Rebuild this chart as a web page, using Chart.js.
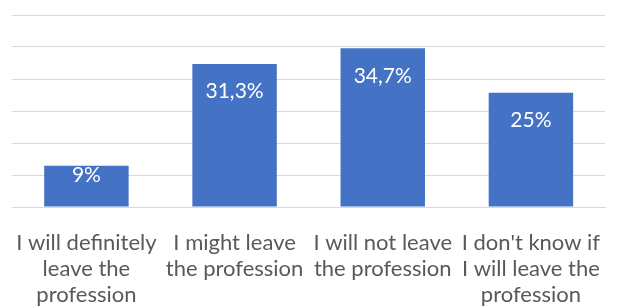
<!DOCTYPE html>
<html>
<head>
<meta charset="utf-8">
<script src="https://cdn.jsdelivr.net/npm/chart.js@4.4.1/dist/chart.umd.min.js"></script>
<style>
  html, body { margin: 0; padding: 0; background: #fff; }
  #wrap { width: 617px; height: 308px; }
</style>
</head>
<body>
<div id="wrap"><canvas id="chartCanvas" width="617" height="308"></canvas></div>
<script>
// categories (x-axis labels, already split into lines)
const categories = [
    ['I will definitely', 'leave the', 'profession'],
    ['I might leave', 'the profession'],
    ['I will not leave', 'the profession'],
    ["I don't know if", 'I will leave the', 'profession'],
];
// percent of respondents
const values = [9, 31.3, 34.7, 25];
const valueLabels = ['9%', '31,3%', '34,7%', '25%'];

const FONT = 'Lato, "Open Sans", sans-serif';

// white value labels drawn inside the top of each bar
const insideLabels = {
    id: 'insideLabels',
    afterDatasetsDraw(chart) {
        const ctx = chart.ctx;
        const meta = chart.getDatasetMeta(0);
        ctx.save();
        ctx.fillStyle = '#ffffff';
        ctx.font = '21px ' + FONT;
        ctx.textAlign = 'center';
        ctx.textBaseline = 'top';
        meta.data.forEach((bar, i) => {
            const h = bar.base - bar.y;
            const off = h < 60 ? -1 : 17;
            ctx.fillText(valueLabels[i], bar.x, bar.y + off);
        });
        ctx.restore();
    }
};

const ctx = document.getElementById('chartCanvas').getContext('2d');
new Chart(ctx, {
    type: 'bar',
    data: {
        labels: categories,
        datasets: [{
            data: values,
            backgroundColor: '#4472c4',
            categoryPercentage: 1,
            barPercentage: 0.57,
        }],
    },
    options: {
        responsive: false,
        animation: false,
        layout: { padding: { left: 10, right: 12, top: 15, bottom: 0 } },
        plugins: { legend: { display: false }, tooltip: { enabled: false } },
        scales: {
            x: {
                grid: { display: false },
                border: { display: true, color: '#d9d9d9', width: 1 },
                ticks: {
                    color: '#595959',
                    font: { family: FONT, size: 22, lineHeight: 1.18 },
                    maxRotation: 0,
                    autoSkip: false,
                    padding: 15,
                },
                afterFit(axis) { axis.height = 101; },
            },
            y: {
                min: 0,
                max: 42,
                ticks: { display: false, stepSize: 7 },
                grid: { color: '#d9d9d9', lineWidth: 1, drawTicks: false },
                border: { display: false },
                afterFit(axis) { axis.width = 0; },
            },
        },
    },
    plugins: [insideLabels],
});
</script>
</body>
</html>
